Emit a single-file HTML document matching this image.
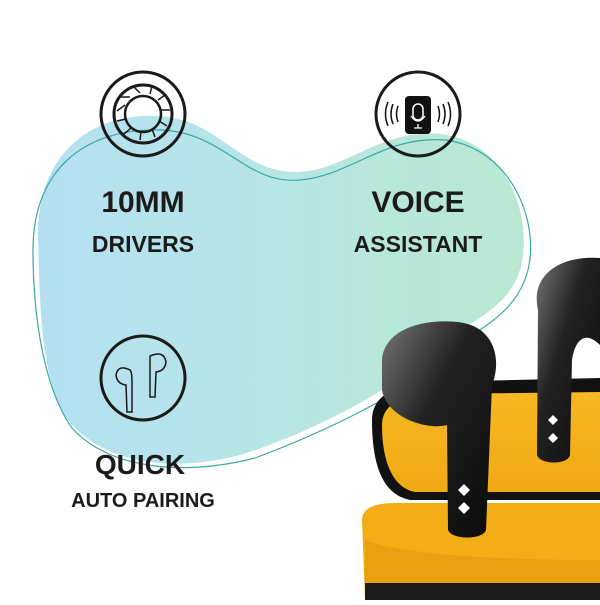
<!DOCTYPE html>
<html><head><style>
body{margin:0;width:600px;height:600px;background:#fff;overflow:hidden;font-family:"Liberation Sans",sans-serif}
</style></head><body>
<svg width="600" height="600" viewBox="0 0 600 600" xmlns="http://www.w3.org/2000/svg">
<defs>
<linearGradient id="g" x1="0" x2="1" y1="0" y2="0">
<stop offset="0" stop-color="#b5e0f3"/><stop offset="0.5" stop-color="#b7e6e4"/><stop offset="1" stop-color="#b9e8d2"/>
</linearGradient>
<linearGradient id="bk" x1="0" x2="1" y1="0" y2="1">
<stop offset="0" stop-color="#777"/><stop offset="0.4" stop-color="#222"/><stop offset="1" stop-color="#0a0a0a"/>
</linearGradient>
<linearGradient id="yl" x1="0" x2="0" y1="0" y2="1">
<stop offset="0" stop-color="#f6b824"/><stop offset="1" stop-color="#f0a813"/>
</linearGradient>
</defs>
<path d="M38 240 C36 150 95 112 160 116 C220 120 240 172 295 172 C345 172 380 128 440 134 C500 140 532 205 522 262 C512 312 462 322 432 352 C400 384 330 424 250 452 C180 474 105 466 68 420 C40 382 40 300 38 240 Z" fill="url(#g)"/>
<path d="M33 250 C33 165 90 128 160 130 C225 132 245 185 300 180 C350 176 385 135 445 140 C510 148 540 220 528 270 C515 320 470 330 440 360 C405 392 330 430 255 458 C185 476 110 470 72 428 C45 390 33 320 33 250 Z" fill="none" stroke="#3aa9a0" stroke-width="1.2"/>
<g fill="none" stroke="#1a1a1a" stroke-width="3">
<circle cx="143" cy="114" r="42"/>
<circle cx="143" cy="114" r="29"/>
<circle cx="143" cy="114" r="18" stroke-width="2.5"/>
<circle cx="418" cy="114" r="42"/>
<circle cx="143" cy="378" r="42"/>
</g>
<g stroke="#1a1a1a" stroke-width="1.5" fill="none">
<path d="M125 105 l-8 6 M130 97 l-9 0 M140 93 l-6 -6 M150 94 l2 -8 M158 100 l7 -5 M161 110 l9 0 M159 121 l8 5 M152 129 l3 8 M141 132 l-1 8 M131 128 l-7 6 M126 119 l-9 2"/>
</g>
<rect x="405" y="96" width="26" height="38" rx="4" fill="#111"/>
<rect x="413" y="104" width="10" height="16" rx="5" fill="none" stroke="#fff" stroke-width="1.5"/>
<path d="M411 116 q7 10 14 0 M418 124 v4 M414 128 h8" stroke="#fff" stroke-width="1.3" fill="none"/>
<path d="M398 106 q-3 8 0 16 M393 104 q-4 10 0 20 M388 102 q-5 12 0 24 M438 106 q3 8 0 16 M443 104 q4 10 0 20 M448 102 q5 12 0 24" stroke="#111" stroke-width="1.5" fill="none"/>
<g stroke="#1a1a1a" stroke-width="1.5" fill="none">
<path d="M130 370 q-12 -6 -14 5 q1 9 10 10 l1 27 h5 l0 -30 q0 -10 -2 -12 Z"/>
<path d="M150 356 q14 -6 16 6 q-1 9 -10 10 l-1 25 h-5 l0 -30 q0 -9 0 -11 Z"/>
</g>
<g fill="#1b1b1b" text-anchor="middle" font-weight="bold">
<text x="143" y="212" font-size="30">10MM</text>
<text x="143" y="252" font-size="23">DRIVERS</text>
<text x="418" y="212" font-size="30">VOICE</text>
<text x="418" y="252" font-size="23">ASSISTANT</text>
<text x="140" y="474" font-size="28">QUICK</text>
<text x="143" y="507" font-size="20">AUTO PAIRING</text>
</g>
<path d="M372 420 C372 395 395 385 430 382 L600 378 L600 500 L410 500 C385 495 372 470 372 420 Z" fill="#111"/>
<path d="M382 425 C382 405 400 396 430 394 L600 392 L600 492 L415 492 C393 488 382 462 382 425 Z" fill="url(#yl)"/>
<path d="M362 520 C362 508 375 503 395 503 L600 503 L600 600 L365 600 Z" fill="#f2ad17"/>
<path d="M365 540 Q420 560 600 560 L600 600 L365 600 Z" fill="#e8a010"/>
<rect x="365" y="583" width="235" height="17" fill="#1a1a1a"/>
<path d="M538 310 C530 275 560 255 600 258 L600 345 C585 330 575 340 572 360 L570 455 C568 465 540 465 537 455 Z" fill="url(#bk)"/>
<path d="M548 420 l5 5 l5 -5 l-5 -5 Z M548 438 l5 5 l5 -5 l-5 -5 Z" fill="#fff"/>
<path d="M382 365 C380 332 418 318 458 322 C495 326 502 360 492 385 L486 530 C483 540 452 540 448 530 L447 425 C430 430 388 420 382 390 Z" fill="url(#bk)"/>
<path d="M458 490 l6 6 l6 -6 l-6 -6 Z M458 508 l6 6 l6 -6 l-6 -6 Z" fill="#fff"/>
</svg>
</body></html>
